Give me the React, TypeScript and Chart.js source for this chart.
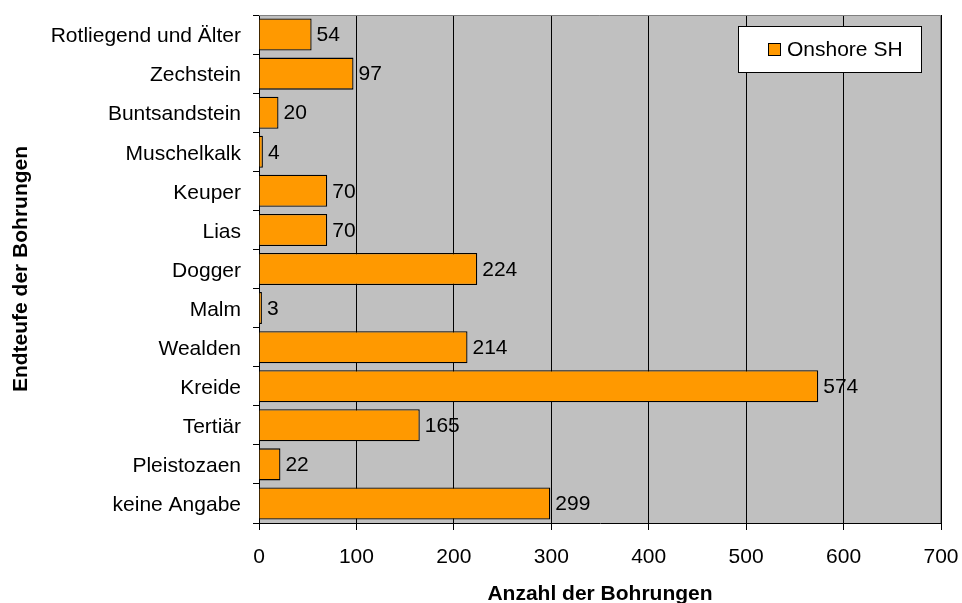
import React, { useEffect, useRef } from "react";
import { Chart, registerables } from "chart.js";

Chart.register(...registerables);

const categories = [
  "Rotliegend und Älter",
  "Zechstein",
  "Buntsandstein",
  "Muschelkalk",
  "Keuper",
  "Lias",
  "Dogger",
  "Malm",
  "Wealden",
  "Kreide",
  "Tertiär",
  "Pleistozaen",
  "keine Angabe",
];
const onshoreSH = [54, 97, 20, 4, 70, 70, 224, 3, 214, 574, 165, 22, 299];
const seriesName = "Onshore SH";
const xTicks = [0, 100, 200, 300, 400, 500, 600, 700];
const xTitle = "Anzahl der Bohrungen";
const yTitle = "Endteufe der Bohrungen";

const FONT = "'Liberation Sans', Arial, sans-serif";
const FS = 21;

const plotBg = {
  id: "plotBg",
  beforeDraw(chart: any) {
    const { ctx, chartArea: a } = chart;
    ctx.save();
    ctx.fillStyle = "#C0C0C0";
    ctx.fillRect(a.left, a.top, a.right - a.left, a.bottom - a.top);
    ctx.restore();
  },
  afterDatasetsDraw(chart: any) {
    const { ctx, chartArea: a } = chart;
    ctx.save();
    ctx.strokeStyle = "#808080";
    ctx.lineWidth = 1;
    ctx.beginPath();
    ctx.moveTo(a.left, a.top + 0.5);
    ctx.lineTo(a.right - 0.5, a.top + 0.5);
    ctx.lineTo(a.right - 0.5, a.bottom);
    ctx.stroke();
    // data labels
    const meta = chart.getDatasetMeta(0);
    ctx.fillStyle = "#000";
    ctx.font = `${FS}px ${FONT}`;
    ctx.textAlign = "left";
    ctx.textBaseline = "middle";
    meta.data.forEach((bar: any, i: number) => {
      ctx.fillText(String(chart.data.datasets[0].data[i]), bar.x + 5, bar.y + 1);
    });
    // legend
    const lx = 738, ly = 26, lw = 183, lh = 46;
    ctx.fillStyle = "#fff";
    ctx.fillRect(lx, ly, lw, lh);
    ctx.strokeStyle = "#000";
    ctx.strokeRect(lx + 0.5, ly + 0.5, lw, lh);
    ctx.fillStyle = "#FF9900";
    ctx.fillRect(768, 43, 12, 12);
    ctx.strokeRect(768.5, 43.5, 12, 12);
    ctx.fillStyle = "#000";
    ctx.fillText(seriesName, 787, 50);
    ctx.restore();
  },
};

export default function App() {
  const ref = useRef<HTMLCanvasElement>(null);
  useEffect(() => {
    const chart = new Chart(ref.current!, {
      type: "bar",
      data: {
        labels: categories,
        datasets: [
          {
            label: seriesName,
            data: onshoreSH,
            backgroundColor: "#FF9900",
            borderColor: "#000",
            borderWidth: 1.3,
            categoryPercentage: 1,
            barPercentage: 0.82,
          },
        ],
      },
      options: {
        indexAxis: "y",
        animation: false,
        responsive: false,
        devicePixelRatio: 1,
        layout: { padding: { top: 15, right: 21, left: 0, bottom: 0 } },
        plugins: { legend: { display: false }, tooltip: { enabled: false } },
        scales: {
          x: {
            min: 0,
            max: 700,
            afterBuildTicks(scale: any) {
              scale.ticks = xTicks.map((v) => ({ value: v }));
            },
            afterFit(scale: any) {
              scale.height = 80;
              scale.paddingLeft = 0;
              scale.paddingRight = 0;
            },
            grid: {
              color: "#000",
              lineWidth: 1,
              drawOnChartArea: true,
              drawTicks: true,
              tickLength: 7,
              tickColor: "#000",
            },
            border: { color: "#000", width: 1 },
            ticks: {
              color: "#000",
              font: { family: FONT, size: FS },
              padding: 15,
              maxRotation: 0,
            },
            title: {
              display: true,
              text: xTitle,
              color: "#000",
              font: { family: FONT, size: FS, weight: "bold" },
              padding: { top: 0, bottom: -3.5 },
            },
          },
          y: {
            offset: true,
            afterFit(scale: any) {
              scale.width = 259;
              scale.paddingTop = 0;
              scale.paddingBottom = 0;
            },
            grid: {
              offset: true,
              drawOnChartArea: false,
              drawTicks: true,
              tickLength: 6,
              tickColor: "#000",
            },
            border: { color: "#000", width: 1 },
            ticks: {
              color: "#000",
              font: { family: FONT, size: FS },
              padding: 12,
              labelOffset: 2,
            },
            title: {
              display: true,
              text: yTitle,
              color: "#000",
              font: { family: FONT, size: FS, weight: "bold" },
              padding: { top: 9, bottom: 0 },
            },
          },
        },
      } as any,
      plugins: [plotBg],
    });
    return () => chart.destroy();
  }, []);
  return (
    <div style={{ position: "fixed", left: 0, top: 0, width: 962, height: 603, background: "#fff" }}>
      <canvas ref={ref} width={962} height={603} style={{ display: "block" }} />
    </div>
  );
}
